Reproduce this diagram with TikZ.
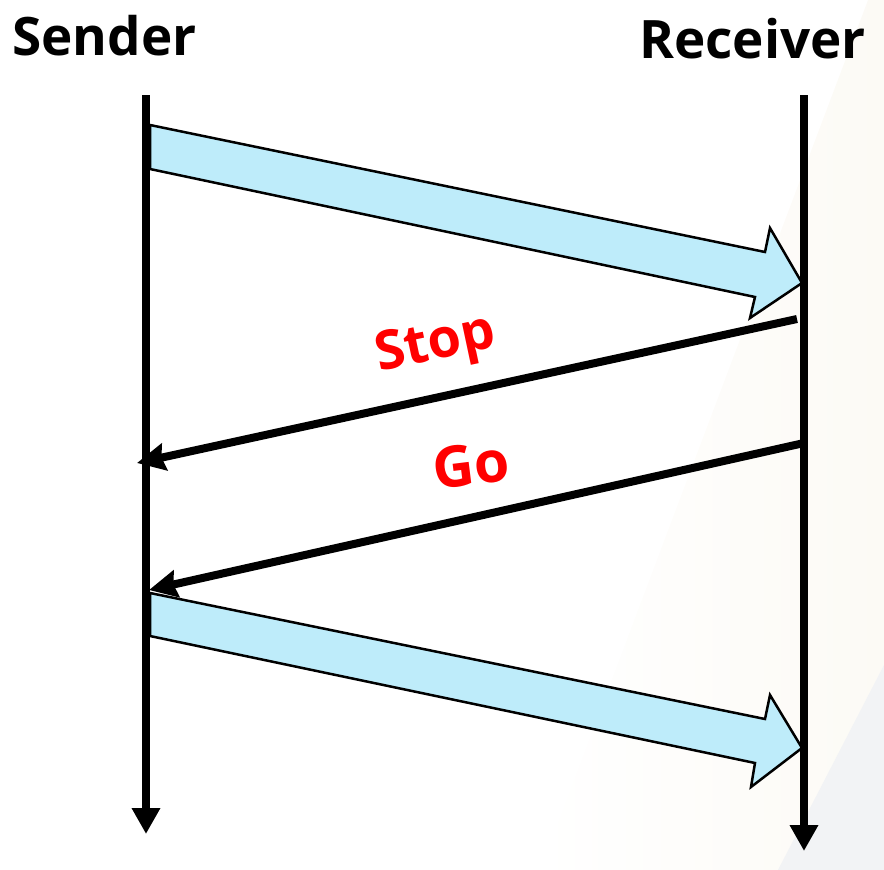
\documentclass[tikz,border=0pt]{standalone}
\usepackage{fontspec}
\setmainfont{Open Sans}
\usetikzlibrary{arrows.meta}
\definecolor{flowblue}{RGB}{190,236,250}
\definecolor{bgbeige}{RGB}{252,250,245}
\definecolor{bggrey}{RGB}{242,243,245}
\tikzset{
  lifeline/.style={line width=8pt, -{Triangle[length=26pt,width=27pt]}},
  signal/.style={line width=8pt, -{Stealth[length=28pt,width=27pt,inset=3pt]}},
  dataflow/.style={draw=black, line width=2.5pt, fill=flowblue, line join=miter},
  title/.style={font=\bfseries\fontsize{53}{60}\selectfont, inner sep=0pt},
  stoplabel/.style={font=\bfseries\fontsize{54}{60}\selectfont, text=red, inner sep=0pt},
  golabel/.style={font=\bfseries\fontsize{57}{62}\selectfont, text=red, inner sep=0pt}
}
\begin{document}
\begin{tikzpicture}[x=1pt,y=-1pt]
\useasboundingbox (0,0) rectangle (884,870);
% background
\shade[left color=white, right color=bgbeige] (868,0) -- (884,0) -- (884,870) -- (540,870) -- cycle;
\fill[bggrey] (884,665) -- (884,870) -- (778,870) -- cycle;
% titles
\node[title, anchor=base west] (sender) at (12,55) {Sender};
\node[title, anchor=base east] (receiver) at (866,58) {Receiver};
% lifeline coordinates
\coordinate (s0) at (146,95);
\coordinate (s1) at (146,834);
\coordinate (r0) at (804,95);
\coordinate (r1) at (804,851);
% data arrows
\draw[dataflow] (150,125) -- (765,252) -- (770,228) -- (802,283) -- (750,318) -- (755,297) -- (150,169) -- cycle;
\draw[dataflow] (150,593) -- (765,719) -- (770,695) -- (802,748) -- (751,787) -- (755,763) -- (150,636) -- cycle;
% lifelines
\draw[lifeline] (s0) -- (s1);
\draw[lifeline] (r0) -- (r1);
% signals
\coordinate (stopA) at (797,319);
\coordinate (stopB) at (137,463);
\coordinate (goA) at (804,443);
\coordinate (goB) at (149,590);
\draw[signal] (stopA) -- (stopB);
\draw[signal] (goA) -- (goB);
\node[stoplabel, rotate=12] (stop) at (436,346) {Stop};
\node[golabel, rotate=7] (go) at (471,465) {Go};
\end{tikzpicture}
\end{document}
